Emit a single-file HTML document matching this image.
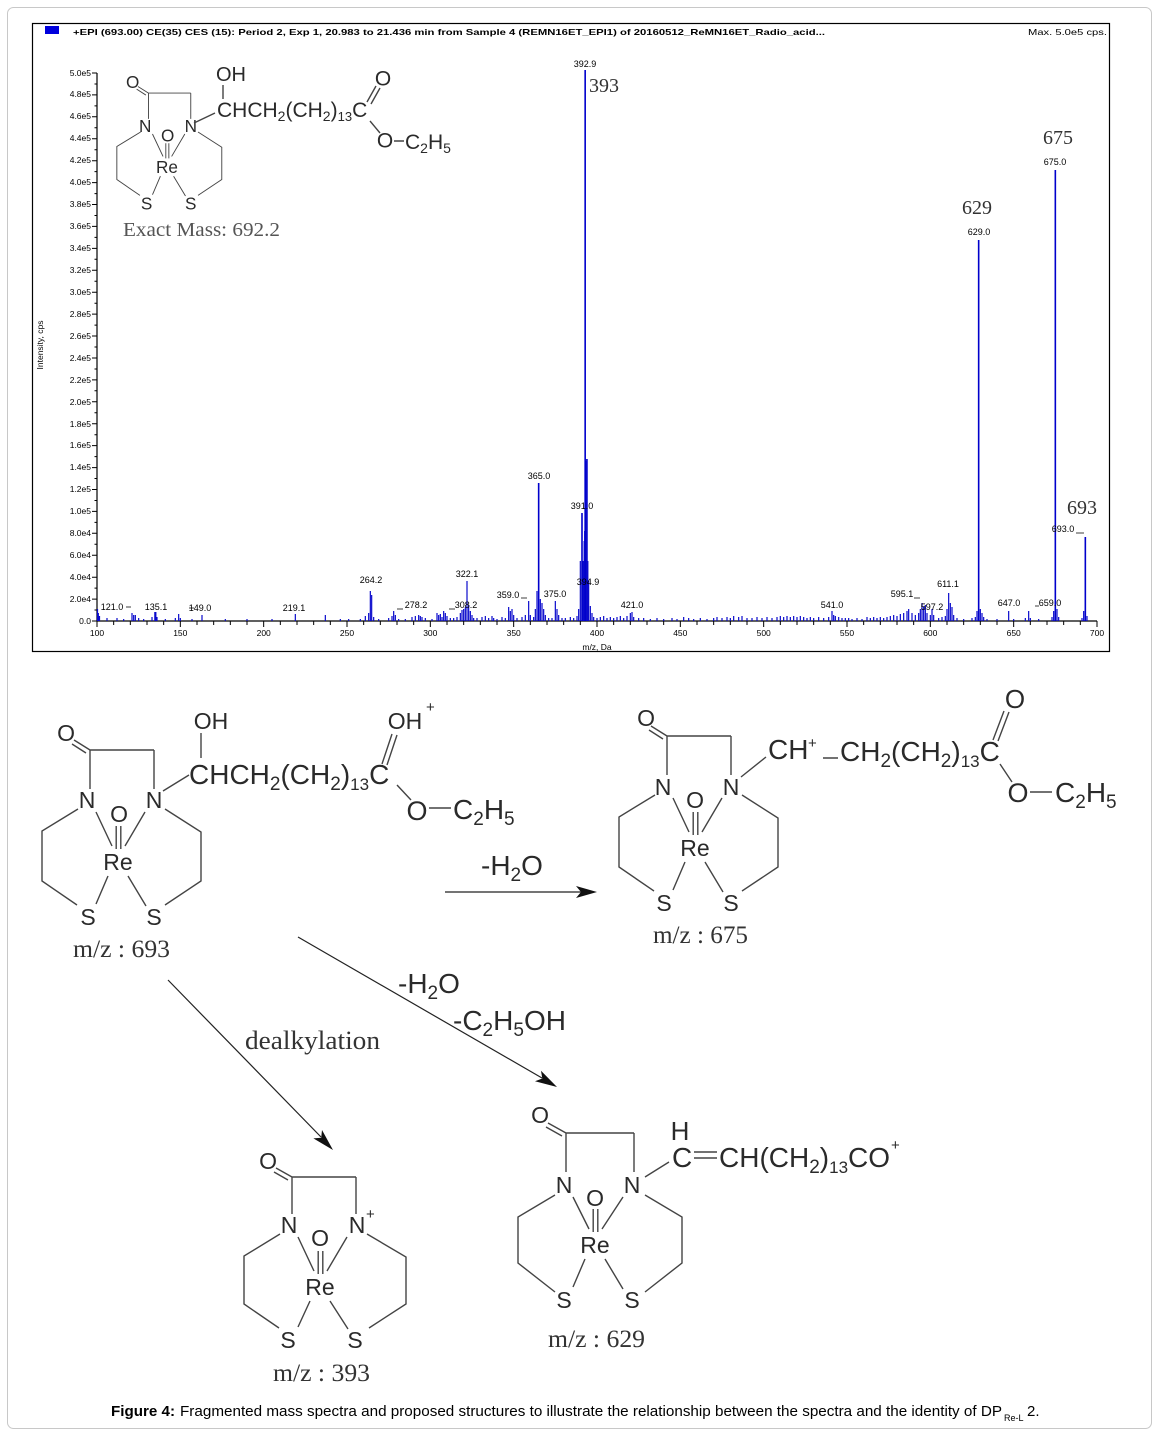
<!DOCTYPE html>
<html><head><meta charset="utf-8">
<style>
html,body{margin:0;padding:0;background:#fff;}
svg{display:block}
.s{font-family:"Liberation Sans",Arial,sans-serif}
.t{font-family:"Liberation Serif","Times New Roman",serif}
.at{font-family:"Liberation Sans",Arial,sans-serif;font-size:23px;fill:#2a2a2a;text-anchor:middle;dominant-baseline:central}
.ai{font-family:"Liberation Sans",Arial,sans-serif;font-size:26px;fill:#2a2a2a;text-anchor:middle;dominant-baseline:central}
.bd{stroke:#444;stroke-width:1.4;fill:none}
.ch{font-family:"Liberation Sans",Arial,sans-serif;font-size:28px;fill:#2a2a2a}
.pl{font-family:"Liberation Sans",Arial,sans-serif;font-size:9px;fill:#000;text-anchor:middle}
.yl{font-family:"Liberation Sans",Arial,sans-serif;font-size:8.5px;fill:#000;text-anchor:end}
.xl{font-family:"Liberation Sans",Arial,sans-serif;font-size:8.5px;fill:#000;text-anchor:middle}
.big{font-family:"Liberation Serif","Times New Roman",serif;font-size:20px;fill:#333;text-anchor:middle}
.mz{font-family:"Liberation Serif","Times New Roman",serif;font-size:25px;fill:#333}
.ar{stroke:#222;stroke-width:1.2;fill:none}
</style></head>
<body>
<svg width="1160" height="1435" viewBox="0 0 1160 1435" xmlns="http://www.w3.org/2000/svg">
<rect x="0" y="0" width="1160" height="1435" fill="#fff"/>
<rect x="7.5" y="7.5" width="1144" height="1421" rx="6" fill="none" stroke="#c8c8c8" stroke-width="1"/>

<!-- ===== Spectrum box ===== -->
<rect x="32.5" y="23.5" width="1077" height="628" fill="none" stroke="#000" stroke-width="1.2"/>
<rect x="45" y="26" width="14" height="8" fill="#0000dd"/>
<text class="s" x="73" y="35" font-size="8.5" font-weight="bold" textLength="752" lengthAdjust="spacingAndGlyphs">+EPI (693.00) CE(35) CES (15): Period 2, Exp 1, 20.983 to 21.436 min from Sample 4 (REMN16ET_EPI1) of 20160512_ReMN16ET_Radio_acid...</text>
<text class="s" x="1028" y="35" font-size="8.5" textLength="79" lengthAdjust="spacingAndGlyphs">Max. 5.0e5 cps.</text>

<path d="M97,73V621H1097" stroke="#000" stroke-width="1.2" fill="none"/>
<path stroke="#000" stroke-width="1" fill="none" d="M92,621H97M92,599.1H97M92,577.2H97M92,555.2H97M92,533.3H97M92,511.4H97M92,489.5H97M92,467.6H97M92,445.6H97M92,423.7H97M92,401.8H97M92,379.9H97M92,358H97M92,336H97M92,314.1H97M92,292.2H97M92,270.3H97M92,248.4H97M92,226.4H97M92,204.5H97M92,182.6H97M92,160.7H97M92,138.8H97M92,116.8H97M92,94.9H97M92,73H97
M94.5,610H97M94.5,588.1H97M94.5,566.2H97M94.5,544.3H97M94.5,522.4H97M94.5,500.5H97M94.5,478.5H97M94.5,456.6H97M94.5,434.7H97M94.5,412.8H97M94.5,390.8H97M94.5,369H97M94.5,347H97M94.5,325.1H97M94.5,303.2H97M94.5,281.3H97M94.5,259.3H97M94.5,237.4H97M94.5,215.5H97M94.5,193.6H97M94.5,171.6H97M94.5,149.7H97M94.5,127.8H97M94.5,105.9H97M94.5,84H97"/>
<g class="yl">
<text x="91" y="624">0.0</text>
<text x="91" y="602">2.0e4</text>
<text x="91" y="580">4.0e4</text>
<text x="91" y="558">6.0e4</text>
<text x="91" y="536">8.0e4</text>
<text x="91" y="514">1.0e5</text>
<text x="91" y="492">1.2e5</text>
<text x="91" y="470">1.4e5</text>
<text x="91" y="448">1.6e5</text>
<text x="91" y="427">1.8e5</text>
<text x="91" y="405">2.0e5</text>
<text x="91" y="383">2.2e5</text>
<text x="91" y="361">2.4e5</text>
<text x="91" y="339">2.6e5</text>
<text x="91" y="317">2.8e5</text>
<text x="91" y="295">3.0e5</text>
<text x="91" y="273">3.2e5</text>
<text x="91" y="251">3.4e5</text>
<text x="91" y="229">3.6e5</text>
<text x="91" y="207">3.8e5</text>
<text x="91" y="185">4.0e5</text>
<text x="91" y="163">4.2e5</text>
<text x="91" y="141">4.4e5</text>
<text x="91" y="119">4.6e5</text>
<text x="91" y="97">4.8e5</text>
<text x="91" y="76">5.0e5</text>
</g>
<text class="s" font-size="8.5" text-anchor="middle" transform="translate(43,345) rotate(-90)">Intensity, cps</text>

<g transform="matrix(1.666667,0,0,-1,-69.6667,621)">
<path stroke="#000" stroke-width="1" vector-effect="non-scaling-stroke" fill="none" d="M110 0v-4M120 0v-4M130 0v-4M140 0v-4M160 0v-4M170 0v-4M180 0v-4M190 0v-4M210 0v-4M220 0v-4M230 0v-4M240 0v-4M260 0v-4M270 0v-4M280 0v-4M290 0v-4M310 0v-4M320 0v-4M330 0v-4M340 0v-4M360 0v-4M370 0v-4M380 0v-4M390 0v-4M410 0v-4M420 0v-4M430 0v-4M440 0v-4M460 0v-4M470 0v-4M480 0v-4M490 0v-4M510 0v-4M520 0v-4M530 0v-4M540 0v-4M560 0v-4M570 0v-4M580 0v-4M590 0v-4M610 0v-4M620 0v-4M630 0v-4M640 0v-4M660 0v-4M670 0v-4M680 0v-4M690 0v-4M100 0v-6M150 0v-6M200 0v-6M250 0v-6M300 0v-6M350 0v-6M400 0v-6M450 0v-6M500 0v-6M550 0v-6M600 0v-6M650 0v-6M700 0v-6"/>
<path stroke="#0a0acc" stroke-width="1.2" vector-effect="non-scaling-stroke" fill="none" d="M100.3 0v12M100.8 0v8M101.5 0v5M106 0v3M112 0v3M116 0v2M121 0v8M122 0v6M123 0v6M125 0v3M128 0v2M133 0v4M134.7 0v9M135.3 0v9M136 0v4M141 0v2M147 0v3M149 0v7M150 0v3M157 0v2M163 0v6M177 0v2M190 0v2M205 0v2M219 0v7M237 0v6M246 0v2M251 0v2M258 0v2M261 0v5M263 0v8M264 0v30M264.8 0v26M266 0v4M269 0v2M275 0v3M277 0v5M278 0v10M279 0v6M281 0v2M285 0v2M289 0v4M291 0v5M293 0v6M294 0v5M295 0v4M297 0v3M301 0v2M304 0v8M305 0v6M306 0v7M307 0v4M308 0v10M309 0v8M310 0v5M312 0v3M314 0v3M316 0v4M318 0v8M319 0v11M320 0v12M321 0v14M322 0v40M323 0v16M324 0v10M325 0v6M326 0v3M328 0v3M331 0v4M333 0v5M335 0v3M337 0v5M338 0v3M340 0v2M343 0v4M345 0v3M347 0v14M348 0v10M349 0v12M350 0v6M352 0v3M355 0v4M357 0v6M359 0v20M360 0v6M362 0v4M363 0v12M364 0v30M366 0v22M367 0v18M368 0v12M369 0v6M371 0v3M373 0v3M375 0v20M376 0v12M377 0v6M379 0v3M381 0v3M384 0v4M386 0v3M388 0v5M389 0v12M390 0v60M391.5 0v60M392 0v60M392.3 0v80M392.6 0v90M393.2 0v160M393.5 0v160M393.8 0v162M394.1 0v162M394.5 0v60M395 0v40M396 0v15M397 0v8M398 0v4M400 0v3M402 0v4M404 0v5M406 0v3M408 0v4M410 0v3M412 0v4M414 0v5M416 0v3M418 0v5M420 0v8M421 0v9M422 0v4M425 0v3M428 0v3M432 0v2M436 0v3M440 0v2M445 0v3M448 0v2M452 0v4M455 0v3M458 0v2M462 0v3M466 0v2M470 0v3M472 0v4M475 0v3M478 0v4M480 0v3M482 0v5M485 0v4M487 0v5M490 0v3M493 0v3M496 0v4M499 0v3M502 0v4M505 0v3M508 0v4M510 0v5M512 0v4M514 0v5M516 0v4M518 0v5M520 0v4M522 0v5M524 0v4M526 0v3M528 0v4M530 0v3M533 0v4M536 0v3M539 0v4M541 0v10M542 0v6M543 0v5M545 0v4M547 0v3M549 0v3M551 0v3M553 0v2M556 0v3M559 0v2M562 0v4M564 0v3M566 0v4M568 0v3M570 0v4M572 0v3M574 0v4M576 0v5M578 0v6M580 0v5M582 0v7M584 0v8M586 0v10M587 0v12M589 0v8M591 0v6M593 0v8M594 0v12M595 0v18M596 0v14M597 0v16M598 0v8M600 0v6M601 0v12M602 0v6M605 0v3M607 0v4M609 0v5M610 0v12M611 0v28M612 0v18M613 0v14M614 0v6M616 0v3M620 0v2M625 0v3M627 0v4M628 0v10M630 0v12M631 0v8M632 0v4M634 0v2M640 0v2M647 0v10M650 0v2M657 0v3M659 0v10M660 0v3M665 0v2M673 0v4M674 0v10M676 0v12M677 0v4M691 0v3M692 0v10M694 0v5"/>
<path stroke="#0000cc" stroke-width="1.6" vector-effect="non-scaling-stroke" fill="none" d="M365 0v138M391 0v108M392.9 0v551M629 0v381M675 0v451M693 0v84"/>
</g>

<g class="xl">
<text x="97" y="636">100</text><text x="180.3" y="636">150</text><text x="263.7" y="636">200</text>
<text x="347" y="636">250</text><text x="430.3" y="636">300</text><text x="513.7" y="636">350</text>
<text x="597" y="636">400</text><text x="680.3" y="636">450</text><text x="763.7" y="636">500</text>
<text x="847" y="636">550</text><text x="930.3" y="636">600</text><text x="1013.7" y="636">650</text>
<text x="1097" y="636">700</text>
<text x="597" y="650">m/z, Da</text>
</g>

<g class="pl">
<text x="585" y="67">392.9</text>
<text x="1055" y="165">675.0</text>
<text x="979" y="235">629.0</text>
<text x="1063" y="532">693.0</text>
<text x="539" y="479">365.0</text>
<text x="582" y="509">391.0</text>
<text x="588" y="585">394.9</text>
<text x="467" y="577">322.1</text>
<text x="371" y="583">264.2</text>
<text x="508" y="598">359.0</text>
<text x="555" y="597">375.0</text>
<text x="416" y="608">278.2</text>
<text x="466" y="608">308.2</text>
<text x="112" y="610">121.0</text>
<text x="156" y="610">135.1</text>
<text x="200" y="611">149.0</text>
<text x="294" y="611">219.1</text>
<text x="632" y="608">421.0</text>
<text x="832" y="608">541.0</text>
<text x="902" y="597">595.1</text>
<text x="932" y="610">597.2</text>
<text x="948" y="587">611.1</text>
<text x="1009" y="606">647.0</text>
<text x="1050" y="606">659.0</text>
</g>
<path stroke="#000" stroke-width="0.8" fill="none" d="M1076,533H1084M521,598H527M126,607H131M194,608H189M403,609H397M455,609H449M914,598H920M1039,606H1035"/>
<g class="big">
<text x="604" y="92">393</text>
<text x="1058" y="144">675</text>
<text x="977" y="214">629</text>
<text x="1082" y="514">693</text>
</g>

<!-- inset structure -->
<g transform="translate(167,167) scale(0.66)">
<path class="bd" d="M-44,-122L-28,-112M-46,-118L-32,-109M-28,-112H36M-28,-112V-73M36,-112V-73M-1.8,-36V-13M2.8,-36V-13M-40,-53L-76,-31V19L-41,43M47,-53L83,-30V19L47,43M-22,-50L-6,-16M27,-50L7,-16M-10,14L-22,42M10,14L28,44"/>
<text class="ai" x="-52" y="-129">O</text>
<text class="ai" x="-33" y="-62">N</text>
<text class="ai" x="36" y="-62">N</text>
<text class="ai" x="1" y="-48">O</text>
<text class="ai" x="0" y="0">Re</text>
<text class="ai" x="-31" y="55">S</text>
<text class="ai" x="36" y="55">S</text>
</g>
<path class="bd" stroke-width="1" d="M194,123L215,113M223,85V99M367,102L376,86M371,104L380,88M370,121L380,133M394,141H404"/>
<text class="at" style="font-size:20px" x="231" y="75">OH</text>
<text class="ch" style="font-size:21px" x="217" y="117">CHCH<tspan font-size="14" dy="4">2</tspan><tspan dy="-4">(CH</tspan><tspan font-size="14" dy="4">2</tspan><tspan dy="-4">)</tspan><tspan font-size="13" dy="4">13</tspan><tspan dy="-4">C</tspan></text>
<text class="at" style="font-size:21px" x="383" y="79">O</text>
<text class="at" style="font-size:21px" x="385" y="141">O</text>
<text class="ch" style="font-size:21px" x="405" y="149">C<tspan font-size="14" dy="4">2</tspan><tspan dy="-4">H</tspan><tspan font-size="14" dy="4">5</tspan></text>
<text class="t" x="123" y="236" font-size="20" fill="#555" textLength="157" lengthAdjust="spacingAndGlyphs">Exact Mass: 692.2</text>

<!-- ===== Structure 1: m/z 693 ===== -->
<g transform="translate(118,862)">
<path class="bd" d="M-44,-122L-28,-112M-46,-118L-32,-109M-28,-112H36M-28,-112V-73M36,-112V-73M-1.8,-36V-13M2.8,-36V-13M-40,-53L-76,-31V19L-41,43M47,-53L83,-30V19L47,43M-22,-50L-6,-16M27,-50L7,-16M-10,14L-22,42M10,14L28,44"/>
<text class="at" x="-52" y="-129">O</text>
<text class="at" x="-31" y="-62">N</text>
<text class="at" x="36" y="-62">N</text>
<text class="at" x="1" y="-48">O</text>
<text class="at" x="0" y="0">Re</text>
<text class="at" x="-30" y="55">S</text>
<text class="at" x="36" y="55">S</text>
</g>
<path class="bd" d="M163,791L189,775M201,733V758M382,764L392,734M387,765L397,735M397,785L411,800M429,808H451"/>
<text class="at" x="211" y="721">OH</text>
<text class="ch" x="189" y="784">CHCH<tspan font-size="19" dy="6">2</tspan><tspan dy="-6">(CH</tspan><tspan font-size="19" dy="6">2</tspan><tspan dy="-6">)</tspan><tspan font-size="17" dy="6">13</tspan><tspan dy="-6">C</tspan></text>
<text class="at" x="405" y="721">OH</text>
<text class="s" x="426" y="712" font-size="15" fill="#2a2a2a">+</text>
<text class="at" style="font-size:27px" x="417" y="811">O</text>
<text class="ch" x="453" y="819">C<tspan font-size="19" dy="6">2</tspan><tspan dy="-6">H</tspan><tspan font-size="19" dy="6">5</tspan></text>
<text class="mz" x="73" y="957" textLength="97" lengthAdjust="spacingAndGlyphs">m/z : 693</text>

<path class="ar" d="M445,892H582"/>
<polygon points="597,892 576,886 581,892 576,898" fill="#111"/>
<text class="ch" x="481" y="875">-H<tspan font-size="19" dy="6">2</tspan><tspan dy="-6">O</tspan></text>

<!-- ===== Structure 2: m/z 675 ===== -->
<g transform="translate(695,848)">
<path class="bd" d="M-44,-122L-28,-112M-46,-118L-32,-109M-28,-112H36M-28,-112V-73M36,-112V-73M-1.8,-36V-13M2.8,-36V-13M-40,-53L-76,-31V19L-41,43M47,-53L83,-30V19L47,43M-22,-50L-6,-16M27,-50L7,-16M-10,14L-22,42M10,14L28,44"/>
<text class="at" x="-49" y="-130">O</text>
<text class="at" x="-32" y="-61">N</text>
<text class="at" x="36" y="-61">N</text>
<text class="at" x="0" y="-48">O</text>
<text class="at" x="0" y="0">Re</text>
<text class="at" x="-31" y="55">S</text>
<text class="at" x="36" y="55">S</text>
</g>
<path class="bd" d="M741,777L766,757M823,758H838M993,740L1004,711M998,741L1009,712M1000,764L1012,782M1030,792H1052"/>
<text class="ch" x="768" y="759">CH</text>
<text class="s" x="808" y="748" font-size="15" fill="#2a2a2a">+</text>
<text class="ch" x="840" y="761">CH<tspan font-size="19" dy="6">2</tspan><tspan dy="-6">(CH</tspan><tspan font-size="19" dy="6">2</tspan><tspan dy="-6">)</tspan><tspan font-size="17" dy="6">13</tspan><tspan dy="-6">C</tspan></text>
<text class="at" style="font-size:26px" x="1015" y="699">O</text>
<text class="at" style="font-size:27px" x="1018" y="793">O</text>
<text class="ch" x="1055" y="802">C<tspan font-size="19" dy="6">2</tspan><tspan dy="-6">H</tspan><tspan font-size="19" dy="6">5</tspan></text>
<text class="mz" x="653" y="943" textLength="95" lengthAdjust="spacingAndGlyphs">m/z : 675</text>

<path class="ar" d="M298,937L542,1078"/>
<polygon points="557,1087 541,1070.8 542.3,1078.5 535,1081.2" fill="#111"/>
<text class="ch" x="398" y="993">-H<tspan font-size="19" dy="6">2</tspan><tspan dy="-6">O</tspan></text>
<text class="ch" x="453" y="1030">-C<tspan font-size="19" dy="6">2</tspan><tspan dy="-6">H</tspan><tspan font-size="19" dy="6">5</tspan><tspan dy="-6">OH</tspan></text>

<path class="ar" d="M168,980L321,1137"/>
<polygon points="333,1150 322,1130 321.2,1137.8 313.4,1138.4" fill="#111"/>
<text class="t" x="245" y="1049" font-size="26" fill="#333" textLength="135" lengthAdjust="spacingAndGlyphs">dealkylation</text>

<!-- ===== Structure 3: m/z 393 ===== -->
<g transform="translate(320,1287)">
<path class="bd" d="M-44,-119L-28,-110M-46,-115L-32,-107M-28,-110H36M-28,-110V-73M36,-110V-73M-1.8,-36V-13M2.8,-36V-13M-40,-53L-76,-31V17L-41,41M47,-53L86,-30V17L49,41M-22,-50L-6,-16M27,-50L7,-16M-10,14L-22,40M10,14L28,42"/>
<text class="at" x="-52" y="-126">O</text>
<text class="at" x="-31" y="-62">N</text>
<text class="at" x="37" y="-62">N</text>
<text class="at" x="0" y="-49">O</text>
<text class="at" x="0" y="0">Re</text>
<text class="at" x="-32" y="53">S</text>
<text class="at" x="35" y="53">S</text>
</g>
<text class="s" x="366" y="1219" font-size="15" fill="#2a2a2a">+</text>
<text class="mz" x="273" y="1381" textLength="97" lengthAdjust="spacingAndGlyphs">m/z : 393</text>

<!-- ===== Structure 4: m/z 629 ===== -->
<g transform="translate(595,1245)">
<path class="bd" d="M-47,-122L-29,-112M-49,-118L-33,-109M-29,-112H39M-29,-112V-73M39,-112V-73M-1.8,-36V-13M2.8,-36V-13M-40,-50L-77,-28V18L-40,47M50,-50L87,-28V18L50,47M-22,-48L-6,-16M28,-48L7,-16M-10,14L-22,42M10,14L28,44"/>
<text class="at" x="-55" y="-130">O</text>
<text class="at" x="-31" y="-60">N</text>
<text class="at" x="37" y="-60">N</text>
<text class="at" x="0" y="-47">O</text>
<text class="at" x="0" y="0">Re</text>
<text class="at" x="-31" y="55">S</text>
<text class="at" x="37" y="55">S</text>
</g>
<path class="bd" d="M645,1177L669,1162M694,1152H717M694,1158H717"/>
<text class="at" style="font-size:26px" x="680" y="1131">H</text>
<text class="ch" x="672" y="1167">C</text>
<text class="ch" x="719" y="1167">CH(CH<tspan font-size="19" dy="6">2</tspan><tspan dy="-6">)</tspan><tspan font-size="17" dy="6">13</tspan><tspan dy="-6">CO</tspan></text>
<text class="s" x="891" y="1150" font-size="15" fill="#2a2a2a">+</text>
<text class="mz" x="548" y="1347" textLength="97" lengthAdjust="spacingAndGlyphs">m/z : 629</text>

<!-- caption -->
<text class="s" x="111" y="1416" font-size="15" font-weight="bold" textLength="64" lengthAdjust="spacingAndGlyphs">Figure 4:</text>
<text class="s" x="180" y="1416" font-size="15" textLength="822" lengthAdjust="spacingAndGlyphs">Fragmented mass spectra and proposed structures to illustrate the relationship between the spectra and the identity of DP</text>
<text class="s" x="1004" y="1421" font-size="9">Re-L</text>
<text class="s" x="1027" y="1416" font-size="15">2.</text>
</svg>
</body></html>
